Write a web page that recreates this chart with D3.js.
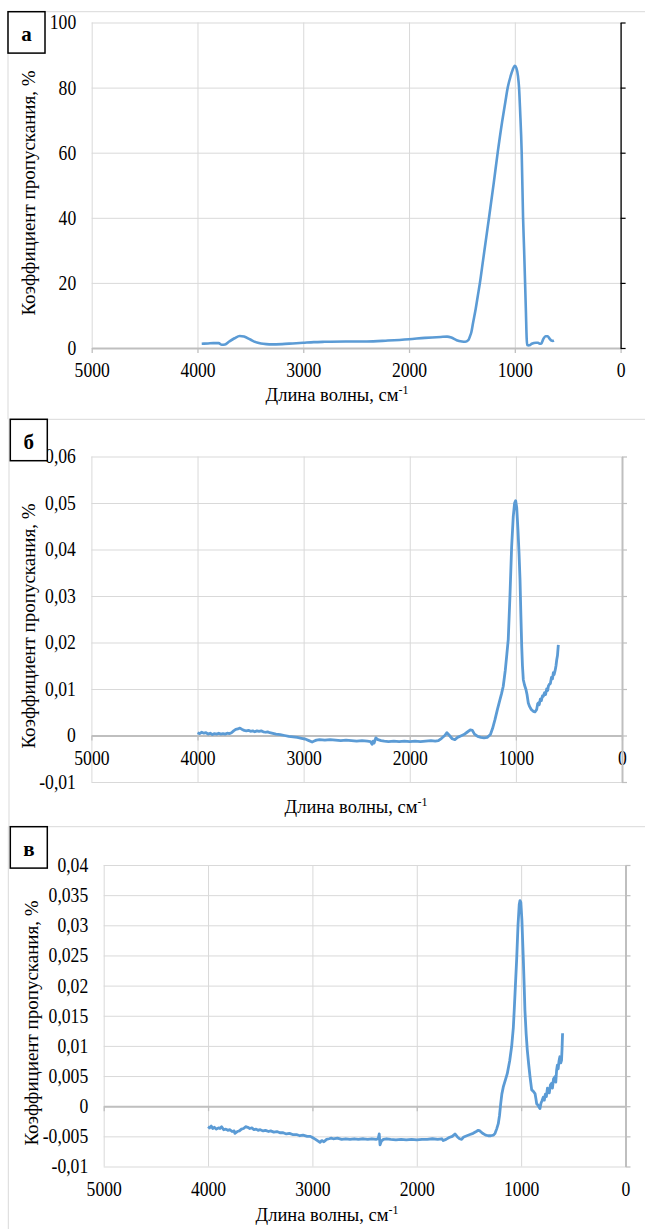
<!DOCTYPE html>
<html>
<head>
<meta charset="utf-8">
<script src="https://cdn.jsdelivr.net/npm/d3@7"></script>
<style>
  body { margin: 0; background: #fff; }
</style>
</head>
<body>
<svg id="chart" width="645" height="1229"></svg>
<script>
(function() {

  // ---- data ----
  var xTicks = [5000, 4000, 3000, 2000, 1000, 0];
  var yTicksA = [0, 20, 40, 60, 80, 100];
  var yTicksB = [-0.01, 0, 0.01, 0.02, 0.03, 0.04, 0.05, 0.06];
  var yTicksC = [-0.01, -0.005, 0, 0.005, 0.01, 0.015, 0.02, 0.025, 0.03, 0.035, 0.04];
  var panelLetters = ['а', 'б', 'в'];
  var xTitle = 'Длина волны, см';
  var yTitle = 'Коэффициент пропускания, %';

  var waveA = [3960, 3900, 3850, 3800, 3770, 3740, 3700, 3650, 3600, 3560, 3500, 3450, 3400, 3350, 3300,
    3200, 3100, 3000, 2900, 2800, 2600, 2400, 2200, 2000, 1850, 1700, 1640, 1600, 1550, 1500, 1470,
    1440, 1425, 1410, 1395, 1370, 1350, 1330, 1300, 1270, 1244, 1200, 1162, 1120, 1090, 1067, 1040,
    1020, 1000, 985, 970, 960, 950, 935, 922, 912, 903, 895, 888, 883, 870, 855, 840, 800, 780, 765,
    750, 730, 710, 690, 670, 655, 640, 630];
  var transA = [1.3, 1.4, 1.5, 1.5, 1.0, 1.1, 2.0, 3.0, 3.7, 3.5, 2.6, 1.8, 1.4, 1.2, 1.1,
    1.2, 1.4, 1.6, 1.8, 1.9, 2.0, 2.0, 2.3, 2.7, 3.1, 3.4, 3.5, 3.2, 2.4, 2.0, 1.9,
    2.4, 3.5, 5.0, 7.7, 12, 16, 20, 27, 34, 40, 50.5, 60, 69.5, 75.5, 80, 83.5,
    85.5, 86.7, 86, 83.5, 80, 73, 60, 40, 30, 20, 11, 3, 0.9, 0.8, 0.9, 1.3, 1.6, 1.6, 1.3,
    1.4, 2.8, 3.6, 3.6, 2.8, 2.3, 2.2, 2.3];

  var waveB = [4000, 3980, 3960, 3940, 3920, 3900, 3880, 3860, 3840, 3820, 3800, 3780, 3760, 3740, 3720,
    3700, 3680, 3660, 3640, 3620, 3600, 3580, 3560, 3540, 3520, 3500, 3480, 3460, 3440, 3420, 3400,
    3380, 3360, 3340, 3320, 3300, 3260, 3220, 3180, 3140, 3100, 3060, 3020, 2980, 2950, 2920, 2900,
    2880, 2850, 2800, 2750, 2700, 2650, 2600, 2550, 2500, 2450, 2400, 2370, 2355, 2345, 2335, 2320,
    2300, 2270, 2240, 2200, 2150, 2100, 2050, 2000, 1950, 1900, 1850, 1800, 1760, 1730, 1700, 1670,
    1650, 1630, 1600, 1575, 1550, 1520, 1490, 1460, 1430, 1410, 1390, 1360, 1330, 1300, 1270, 1240,
    1220, 1197, 1175, 1150, 1135, 1119, 1100, 1085, 1072, 1056, 1040, 1025, 1012, 1002, 992, 980,
    970, 961, 953, 945, 938, 930, 918, 905, 895, 883, 870, 855, 836, 820, 810, 804, 795, 789, 780,
    770, 760, 750, 742, 730, 720, 710, 700, 694, 685, 675, 665, 655, 647, 640, 630, 622, 615, 608, 600];
  var transB = [0.0006, 0.0004, 0.0007, 0.0005, 0.0006, 0.0003, 0.0005, 0.0002, 0.0004, 0.0003, 0.0005, 0.0003, 0.0004, 0.0003, 0.0005,
    0.0004, 0.0006, 0.0010, 0.0013, 0.0014, 0.0016, 0.0013, 0.0011, 0.0010, 0.0011, 0.0009, 0.0010, 0.0008, 0.0010, 0.0009, 0.0010,
    0.0008, 0.0007, 0.0008, 0.0006, 0.0005, 0.0003, 0.0002, 0.0000, -0.0002, -0.0003, -0.0004, -0.0006, -0.0008, -0.0011, -0.0014, -0.0012,
    -0.0010, -0.0009, -0.0010, -0.0009, -0.0010, -0.0011, -0.0010, -0.0011, -0.0012, -0.0011, -0.0012, -0.0013, -0.0019, -0.0012, -0.0016, -0.0005,
    -0.0009, -0.0011, -0.0012, -0.0013, -0.0012, -0.0013, -0.0012, -0.0013, -0.0012, -0.0013, -0.0012, -0.0011, -0.0012, -0.0011, -0.0006, 0.0000,
    0.0006, 0.0001, -0.0007, -0.0009, -0.0004, -0.0001, 0.0002, 0.0007, 0.0012, 0.0011, 0.0003, -0.0002, -0.0004, -0.0005, -0.0004, 0.0002,
    0.0015, 0.0034, 0.0055, 0.0077, 0.0090, 0.0106, 0.0140, 0.0175, 0.0206, 0.0299, 0.0406, 0.0470, 0.0500, 0.0505, 0.0490, 0.0440,
    0.0390, 0.0335, 0.0260, 0.0192, 0.0150, 0.0120, 0.0108, 0.0099, 0.0088, 0.0070, 0.0062, 0.0056, 0.0052, 0.0051, 0.0054, 0.0056, 0.0068, 0.0070, 0.0066,
    0.0078, 0.0075, 0.0085, 0.0084, 0.0092, 0.0088, 0.0100, 0.0097, 0.0106, 0.0110, 0.0112, 0.0125, 0.0122, 0.0135, 0.0131, 0.0140, 0.0150, 0.0163, 0.0172, 0.0195];

  var waveC = [4000, 3985, 3970, 3955, 3940, 3920, 3900, 3886, 3870, 3850, 3830, 3810, 3790, 3770, 3750,
    3743, 3720, 3700, 3680, 3660, 3640, 3620, 3600, 3580, 3560, 3540, 3520, 3500, 3472, 3450, 3420,
    3400, 3370, 3340, 3312, 3280, 3250, 3220, 3190, 3153, 3120, 3090, 3050, 3020, 3000, 2970, 2945,
    2928, 2910, 2890, 2864, 2840, 2820, 2800, 2760, 2720, 2680, 2640, 2600, 2560, 2512, 2470, 2430,
    2390, 2370, 2360, 2352, 2340, 2320, 2289, 2250, 2200, 2150, 2100, 2050, 2000, 1950, 1900, 1850,
    1800, 1760, 1746, 1720, 1690, 1660, 1634, 1610, 1590, 1570, 1550, 1520, 1490, 1460, 1430, 1411,
    1395, 1370, 1340, 1315, 1290, 1265, 1250, 1235, 1219, 1207, 1196, 1185, 1171, 1150, 1133, 1110,
    1091, 1075, 1066, 1055, 1043, 1030, 1018, 1011, 1003, 993, 979, 970, 964, 952, 941, 928, 915,
    899, 885, 867, 858, 851, 840, 830, 820, 810, 800, 788, 778, 768, 758, 748, 740, 730, 720, 708,
    700, 690, 676, 668, 660, 653, 645, 637, 629, 620, 613, 608, 603];
  var transC = [-0.0034, -0.0036, -0.0033, -0.0037, -0.0035, -0.0038, -0.0036, -0.0037, -0.0034, -0.0039, -0.0038, -0.0040, -0.0039, -0.0042, -0.0041,
    -0.0045, -0.0042, -0.0041, -0.0038, -0.0037, -0.0034, -0.0035, -0.0037, -0.0036, -0.0039, -0.0038, -0.0040, -0.0039, -0.0041, -0.0040, -0.0042,
    -0.0041, -0.0043, -0.0042, -0.0044, -0.0044, -0.0046, -0.0045, -0.0047, -0.0047, -0.0049, -0.0048, -0.0050, -0.0050, -0.0052, -0.0055, -0.0058,
    -0.0060, -0.0057, -0.0059, -0.0055, -0.0054, -0.0053, -0.0054, -0.0053, -0.0055, -0.0054, -0.0055, -0.0054, -0.0055, -0.0054, -0.0055, -0.0054,
    -0.0055, -0.0054, -0.0046, -0.0064, -0.0058, -0.0055, -0.0054, -0.0055, -0.0056, -0.0055, -0.0056, -0.0055, -0.0056, -0.0055, -0.0055, -0.0054,
    -0.0055, -0.0054, -0.0057, -0.0055, -0.0052, -0.0050, -0.0046, -0.0051, -0.0054, -0.0055, -0.0051, -0.0049, -0.0047, -0.0045, -0.0042, -0.0040,
    -0.0041, -0.0045, -0.0048, -0.0049, -0.0049, -0.0048, -0.0045, -0.0038, -0.0029, -0.0015, 0.0004, 0.0020, 0.0032, 0.0044, 0.0054, 0.0075,
    0.0099, 0.0130, 0.0160, 0.0200, 0.0243, 0.0300, 0.0335, 0.0341, 0.0338, 0.0310, 0.0243, 0.0195, 0.0160, 0.0120, 0.0093, 0.0070, 0.0049,
    0.0027, 0.0025, 0.0021, 0.0012, 0.0004, 0.0002, -0.0001, -0.0004, 0.0005, 0.0009, 0.0015, 0.0010, 0.0020, 0.0016, 0.0030, 0.0027, 0.0022, 0.0035, 0.0038,
    0.0030, 0.0045, 0.0049, 0.0040, 0.0060, 0.0068, 0.0062, 0.0075, 0.0082, 0.0072, 0.0076, 0.0095, 0.0121];

  // ---- layout of the three panels ----
  var serif = '"Liberation Serif", "Times New Roman", serif';
  var squeeze = 0.88;   // the reference text is a little narrow
  var panels = [
    {frameTop: 11.7, frameLeft: 8, box: [8, 11.7], x0: 91.7, x1: 620.6, y0: 22.5, y1: 348,
     ticks: yTicksA, wave: waveA, trans: transA, labelsAt: 370, yAxisColor: '#000', yAxisWidth: 1.3,
     curve: d3.curveMonotoneX, lineWidth: 2.6, titleX: 337, titleY: 401, yTitleX: 35, yTitleY: 193},
    {frameTop: 419.3, frameLeft: 9, box: [10.3, 419.3], x0: 91.4, x1: 622, y0: 456.5, y1: 782,
     ticks: yTicksB, wave: waveB, trans: transB, labelsAt: 758, yAxisColor: '#bfbfbf', yAxisWidth: 2,
     curve: d3.curveLinear, lineWidth: 2.8, titleX: 356, titleY: 813, yTitleX: 35, yTitleY: 626},
    {frameTop: 826.7, frameLeft: 8.3, box: [10.3, 826.7], x0: 103.7, x1: 625.5, y0: 865, y1: 1166.5,
     ticks: yTicksC, wave: waveC, trans: transC, labelsAt: 1189, yAxisColor: '#bfbfbf', yAxisWidth: 2,
     curve: d3.curveLinear, lineWidth: 2.8, titleX: 327, titleY: 1221, yTitleX: 38, yTitleY: 1023}
  ];

  var svg = d3.select('#chart');

  function fmt(v) { return String(v).replace('.', ','); }

  panels.forEach(function(p, i) {
    var g = svg.append('g');
    var ticks = p.ticks;

    var xScale = d3.scaleLinear().domain([5000, 0]).range([p.x0, p.x1]);
    var yScale = d3.scaleLinear()
      .domain([ticks[0], ticks[ticks.length - 1]])
      .range([p.y1, p.y0]);

    // frame of the chart area
    g.append('line')
      .attr('x1', p.frameLeft).attr('x2', 645)
      .attr('y1', p.frameTop).attr('y2', p.frameTop)
      .attr('stroke', '#d9d9d9').attr('stroke-width', 1);
    g.append('line')
      .attr('x1', p.frameLeft).attr('x2', p.frameLeft)
      .attr('y1', p.frameTop).attr('y2', i < 2 ? panels[i + 1].frameTop : 1229)
      .attr('stroke', '#d9d9d9').attr('stroke-width', 1);

    // gridlines
    g.append('g')
      .attr('transform', 'translate(0,' + p.y1 + ')')
      .call(d3.axisBottom(xScale).tickValues(xTicks).tickSize(-(p.y1 - p.y0)).tickFormat(''))
      .call(function(s) {
        s.select('.domain').remove();
        s.selectAll('line').attr('stroke', '#d9d9d9').attr('stroke-width', 1);
      });
    g.append('g')
      .attr('transform', 'translate(' + p.x0 + ',0)')
      .call(d3.axisLeft(yScale).tickValues(ticks).tickSize(-(p.x1 - p.x0)).tickFormat(''))
      .call(function(s) {
        s.select('.domain').remove();
        s.selectAll('line').attr('stroke', '#d9d9d9').attr('stroke-width', 1);
      });

    // x axis line at zero
    g.append('g')
      .attr('transform', 'translate(0,' + yScale(0) + ')')
      .call(d3.axisBottom(xScale).tickValues(xTicks).tickSize(5).tickSizeOuter(0).tickFormat(''))
      .call(function(s) {
        s.select('.domain').attr('stroke', '#bfbfbf').attr('stroke-width', 2);
        s.selectAll('line').attr('stroke', '#bfbfbf').attr('stroke-width', 1.3);
      });

    // x tick labels
    g.append('g')
      .attr('transform', 'translate(0,' + (p.labelsAt - 7.5) + ')')
      .call(d3.axisBottom(xScale).tickValues(xTicks).tickSize(0).tickPadding(0).tickFormat(fmt))
      .call(function(s) {
        s.select('.domain').remove();
        s.selectAll('text')
          .style('font-family', serif)
          .style('font-size', '20px')
          .style('fill', '#000')
          .attr('transform', 'scale(' + squeeze + ',1)');
      });

    // y axis on the right (value 0 of the reversed x axis)
    g.append('g')
      .attr('transform', 'translate(' + p.x1 + ',0)')
      .call(d3.axisRight(yScale).tickValues(ticks).tickSize(5).tickSizeOuter(0).tickFormat(''))
      .call(function(s) {
        s.select('.domain').attr('stroke', p.yAxisColor).attr('stroke-width', p.yAxisWidth);
        s.selectAll('line').attr('stroke', p.yAxisColor).attr('stroke-width', 1.2);
      });

    // y tick labels on the left
    var pad = 15.5;
    g.append('g')
      .attr('transform', 'translate(' + p.x0 + ',0)')
      .call(d3.axisLeft(yScale).tickValues(ticks).tickSize(0).tickPadding(pad).tickFormat(fmt))
      .call(function(s) {
        s.select('.domain').remove();
        s.selectAll('text')
          .style('font-family', serif)
          .style('font-size', '20px')
          .style('fill', '#000')
          .attr('transform', 'translate(' + (-pad) + ',0) scale(' + squeeze + ',1) translate(' + pad + ',0)');
      });

    // spectrum
    var pts = p.wave.map(function(w, k) { return [w, p.trans[k]]; });
    g.append('path')
      .datum(pts)
      .attr('fill', 'none')
      .attr('stroke', '#5b9bd5')
      .attr('stroke-width', p.lineWidth)
      .attr('stroke-linejoin', 'round')
      .attr('d', d3.line()
        .curve(p.curve)
        .x(function(d) { return xScale(d[0]); })
        .y(function(d) { return yScale(d[1]); }));

    // axis titles
    var xt = g.append('text')
      .attr('x', p.titleX).attr('y', p.titleY)
      .attr('text-anchor', 'middle')
      .style('font-family', serif)
      .style('font-size', '18.5px')
      .text(xTitle);
    xt.append('tspan')
      .style('font-size', '12px')
      .attr('dy', -7)
      .text('-1');

    g.append('text')
      .attr('transform', 'translate(' + p.yTitleX + ',' + p.yTitleY + ') rotate(-90)')
      .attr('text-anchor', 'middle')
      .style('font-family', serif)
      .style('font-size', '19px')
      .text(yTitle);

    // letter box
    g.append('rect')
      .attr('x', p.box[0]).attr('y', p.box[1])
      .attr('width', 37).attr('height', 41.4)
      .attr('fill', '#fff')
      .attr('stroke', '#000')
      .attr('stroke-width', 1.5);
    g.append('text')
      .attr('x', p.box[0] + 18.5).attr('y', p.box[1] + 29.5)
      .attr('text-anchor', 'middle')
      .style('font-family', serif)
      .style('font-size', '21px')
      .style('font-weight', 'bold')
      .text(panelLetters[i]);
  });

})();
</script>
</body>
</html>
